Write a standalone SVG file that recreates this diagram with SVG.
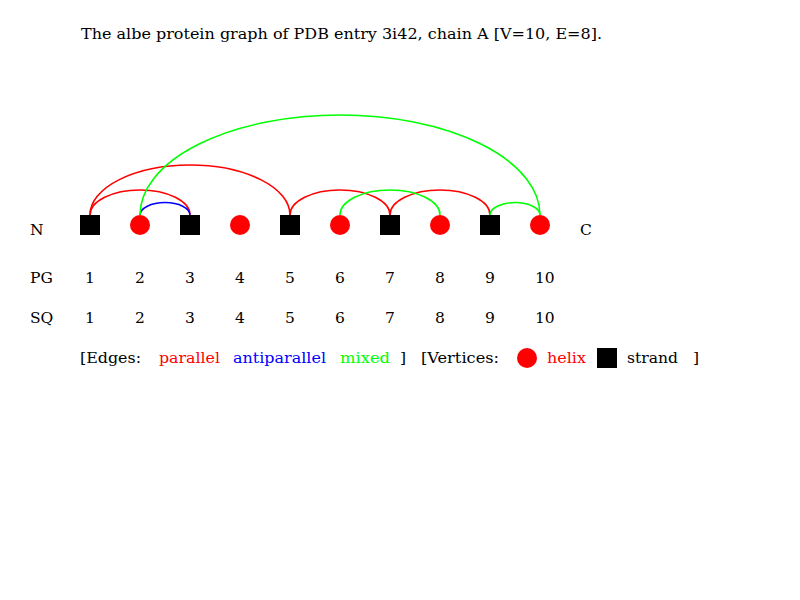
<svg xmlns="http://www.w3.org/2000/svg" width="800" height="600" viewBox="0 0 800 600">
<style>
text { font-family: "DejaVu Serif", "Liberation Serif", serif; font-size: 15.5px; fill: #000; }
.arc { fill: none; stroke-width: 1.6; }
.par { stroke: #ff0000; }
.anti { stroke: #0000ff; }
.mix { stroke: #00ff00; }
.helix { fill: #ff0000; }
.strand { fill: #000000; }
.tpar { fill: #ff0000; }
.tanti { fill: #0000ff; }
.tmix { fill: #00ff00; }
</style>
<rect x="0" y="0" width="800" height="600" fill="#ffffff"/>
<text id="title" x="81" y="39" textLength="521" lengthAdjust="spacingAndGlyphs">The albe protein graph of PDB entry 3i42, chain A [V=10, E=8].</text>
<g id="connectors">
<path class="arc par" d="M 90 215 A 50 25 0 0 1 190 215"/>
<path class="arc par" d="M 90 215 A 100 50 0 0 1 290 215"/>
<path class="arc par" d="M 290 215 A 50 25 0 0 1 390 215"/>
<path class="arc par" d="M 390 215 A 50 25 0 0 1 490 215"/>
<path class="arc anti" d="M 140 215 A 25 12.5 0 0 1 190 215"/>
<path class="arc mix" d="M 140 215 A 200 100 0 0 1 540 215"/>
<path class="arc mix" d="M 340 215 A 50 25 0 0 1 440 215"/>
<path class="arc mix" d="M 490 215 A 25 12.5 0 0 1 540 215"/>
</g>
<g id="v1"><rect class="strand" x="80" y="215" width="20" height="20"/></g>
<g id="v2"><circle class="helix" cx="140" cy="225" r="10"/></g>
<g id="v3"><rect class="strand" x="180" y="215" width="20" height="20"/></g>
<g id="v4"><circle class="helix" cx="240" cy="225" r="10"/></g>
<g id="v5"><rect class="strand" x="280" y="215" width="20" height="20"/></g>
<g id="v6"><circle class="helix" cx="340" cy="225" r="10"/></g>
<g id="v7"><rect class="strand" x="380" y="215" width="20" height="20"/></g>
<g id="v8"><circle class="helix" cx="440" cy="225" r="10"/></g>
<g id="v9"><rect class="strand" x="480" y="215" width="20" height="20"/></g>
<g id="v10"><circle class="helix" cx="540" cy="225" r="10"/></g>
<g id="termini">
<text x="30" y="235">N</text>
<text x="580" y="235">C</text>
</g>
<g id="pg">
<text x="30" y="283">PG</text>
<text x="85" y="283">1</text>
<text x="135" y="283">2</text>
<text x="185" y="283">3</text>
<text x="235" y="283">4</text>
<text x="285" y="283">5</text>
<text x="335" y="283">6</text>
<text x="385" y="283">7</text>
<text x="435" y="283">8</text>
<text x="485" y="283">9</text>
<text x="535" y="283">10</text>
</g>
<g id="sq">
<text x="30" y="323">SQ</text>
<text x="85" y="323">1</text>
<text x="135" y="323">2</text>
<text x="185" y="323">3</text>
<text x="235" y="323">4</text>
<text x="285" y="323">5</text>
<text x="335" y="323">6</text>
<text x="385" y="323">7</text>
<text x="435" y="323">8</text>
<text x="485" y="323">9</text>
<text x="535" y="323">10</text>
</g>
<g id="legend">
<text x="80" y="363" textLength="61" lengthAdjust="spacingAndGlyphs">[Edges:</text>
<text class="tpar" x="159" y="363" textLength="61" lengthAdjust="spacingAndGlyphs">parallel</text>
<text class="tanti" x="233" y="363" textLength="93" lengthAdjust="spacingAndGlyphs">antiparallel</text>
<text class="tmix" x="340" y="363" textLength="50" lengthAdjust="spacingAndGlyphs">mixed</text>
<text x="400" y="363">]</text>
<text x="421" y="363" textLength="78" lengthAdjust="spacingAndGlyphs">[Vertices:</text>
<circle class="helix" cx="527" cy="358" r="10"/>
<text class="tpar" x="547" y="363" textLength="39" lengthAdjust="spacingAndGlyphs">helix</text>
<rect class="strand" x="597" y="348" width="20" height="20"/>
<text x="627" y="363" textLength="51" lengthAdjust="spacingAndGlyphs">strand</text>
<text x="693" y="363">]</text>
</g>
</svg>
